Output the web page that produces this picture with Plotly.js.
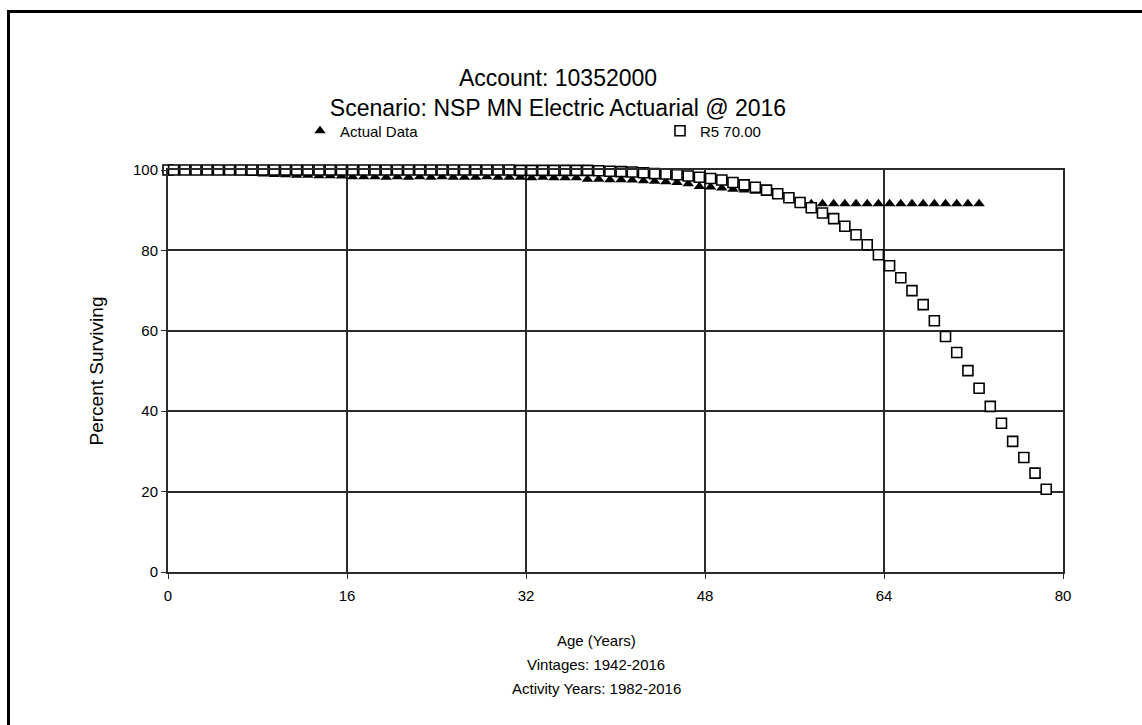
<!DOCTYPE html>
<html>
<head>
<meta charset="utf-8">
<script src="https://cdn.plot.ly/plotly-3.0.1.min.js"></script>
<style>
  html, body { margin: 0; padding: 0; background: #fff; overflow: hidden; }
  #frame { position: absolute; left: 7px; top: 10px; width: 1200px; height: 800px;
           border-left: 3px solid #000; border-top: 3px solid #000; box-sizing: border-box; pointer-events: none; z-index: 5; }
  #chart { position: absolute; left: 0; top: 0; width: 1142px; height: 725px; }
</style>
</head>
<body>
<div id="chart"></div>
<div id="frame"></div>
<script>
// ---- data ----
const chartTitle = "Account: 10352000";
const chartSubtitle = "Scenario: NSP MN Electric Actuarial @ 2016";
const xTitleLines = ["Age (Years)", "Vintages: 1942-2016", "Activity Years: 1982-2016"];
const yTitle = "Percent Surviving";
const seriesNames = ["Actual Data", "R5 70.00"];
const xTicks = [0, 16, 32, 48, 64, 80];
const yTicks = [0, 20, 40, 60, 80, 100];

const ageActual = [0, 0.5, 1.5, 2.5, 3.5, 4.5, 5.5, 6.5, 7.5, 8.5, 9.5, 10.5, 11.5, 12.5, 13.5, 14.5,
  15.5, 16.5, 17.5, 18.5, 19.5, 20.5, 21.5, 22.5, 23.5, 24.5, 25.5, 26.5, 27.5, 28.5, 29.5, 30.5,
  31.5, 32.5, 33.5, 34.5, 35.5, 36.5, 37.5, 38.5, 39.5, 40.5, 41.5, 42.5, 43.5, 44.5, 45.5, 46.5,
  47.5, 48.5, 49.5, 50.5, 51.5, 52.5, 53.5, 54.5, 55.5, 56.5, 57.5, 58.5, 59.5, 60.5, 61.5, 62.5,
  63.5, 64.5, 65.5, 66.5, 67.5, 68.5, 69.5, 70.5, 71.5, 72.5];
const pctActual = [100, 99.9, 99.9, 99.8, 99.8, 99.5, 99.4, 99.3, 99.1, 99.0, 98.9, 98.8, 98.7, 98.7, 98.6, 98.6,
  98.5, 98.3, 98.3, 98.3, 98.2, 98.3, 98.2, 98.3, 98.2, 98.3, 98.2, 98.2, 98.2, 98.3, 98.2, 98.2,
  98.2, 98.1, 98.2, 98.1, 98.1, 98.1, 97.7, 97.7, 97.6, 97.6, 97.5, 97.3, 97.2, 97.1, 96.9, 96.6,
  95.9, 95.8, 95.5, 95.2, 95.0, 94.7, 94.4, 93.8, 93.0, 92.2, 91.6, 91.6, 91.6, 91.6, 91.6, 91.6,
  91.6, 91.6, 91.6, 91.6, 91.6, 91.6, 91.6, 91.6, 91.6, 91.6];

const ageR5 = [0, 0.5, 1.5, 2.5, 3.5, 4.5, 5.5, 6.5, 7.5, 8.5, 9.5, 10.5, 11.5, 12.5, 13.5, 14.5,
  15.5, 16.5, 17.5, 18.5, 19.5, 20.5, 21.5, 22.5, 23.5, 24.5, 25.5, 26.5, 27.5, 28.5, 29.5, 30.5,
  31.5, 32.5, 33.5, 34.5, 35.5, 36.5, 37.5, 38.5, 39.5, 40.5, 41.5, 42.5, 43.5, 44.5, 45.5, 46.5,
  47.5, 48.5, 49.5, 50.5, 51.5, 52.5, 53.5, 54.5, 55.5, 56.5, 57.5, 58.5, 59.5, 60.5, 61.5, 62.5,
  63.5, 64.5, 65.5, 66.5, 67.5, 68.5, 69.5, 70.5, 71.5, 72.5, 73.5, 74.5, 75.5, 76.5, 77.5, 78.5];
const pctR5 = [100, 100, 100, 100, 100, 100, 100, 100, 100, 100, 100, 100, 100, 100, 100, 100,
  100, 100, 100, 100, 100, 100, 100, 100, 100, 100, 100, 100, 100, 100, 100, 100,
  99.9, 99.9, 99.9, 99.9, 99.9, 99.9, 99.9, 99.8, 99.7, 99.6, 99.5, 99.3, 99.1, 99.0, 98.8, 98.5,
  98.2, 97.9, 97.5, 96.9, 96.3, 95.7, 95.0, 94.1, 93.1, 91.9, 90.6, 89.3, 87.9, 86.0, 83.9, 81.4,
  78.9, 76.2, 73.2, 70.0, 66.5, 62.5, 58.6, 54.6, 50.1, 45.7, 41.2, 37.0, 32.5, 28.5, 24.6, 20.6];

// ---- chart ----
const font = "Liberation Sans, Arial, sans-serif";
const gridCol = "#2b2b2b";

const traces = [
  {
    x: ageActual, y: pctActual, name: seriesNames[0], type: "scatter", mode: "markers",
    cliponaxis: false,
    marker: { symbol: "triangle-up", size: 10, color: "#000", line: { width: 0 } }
  },
  {
    x: ageR5, y: pctR5, name: seriesNames[1], type: "scatter", mode: "markers",
    cliponaxis: false,
    marker: { symbol: "square", size: 10, color: "#fff", line: { width: 1.6, color: "#000" } }
  }
];

const annotations = xTitleLines.map((t, i) => ({
  text: t, xref: "paper", yref: "paper", x: (596 - 168) / 895, y: (572 - (640 + 24 * i)) / 402,
  xanchor: "center", yanchor: "middle", showarrow: false,
  font: { family: font, size: 15, color: "#000" }
}));

const layout = {
  width: 1142, height: 725,
  margin: { l: 168, r: 79, t: 170, b: 153 },
  paper_bgcolor: "#fff", plot_bgcolor: "#fff",
  font: { family: font, color: "#000" },
  title: {
    text: chartTitle + "<br>" + chartSubtitle,
    xref: "container", yref: "container",
    x: 558 / 1142, xanchor: "center",
    y: 1 - 86 / 725, yanchor: "top",
    font: { family: font, size: 23, color: "#000" }
  },
  showlegend: true,
  legend: {
    orientation: "h", x: (300 - 168) / 895, xanchor: "left",
    y: (572 - 131) / 402, yanchor: "middle",
    entrywidth: 315, entrywidthmode: "pixels",
    bgcolor: "rgba(0,0,0,0)", font: { family: font, size: 15, color: "#000" },
    itemclick: false
  },
  xaxis: {
    range: [0, 80], tickvals: xTicks, ticktext: xTicks.map(String),
    showgrid: true, gridcolor: gridCol, gridwidth: 2,
    showline: true, linecolor: gridCol, linewidth: 2, mirror: true,
    ticks: "outside", ticklen: 5, tickcolor: gridCol, tickwidth: 1,
    tickfont: { family: font, size: 15, color: "#000" },
    ticklabelstandoff: 4,
    zeroline: false, fixedrange: true
  },
  yaxis: {
    range: [0, 100], tickvals: yTicks, ticktext: yTicks.map(String),
    showgrid: true, gridcolor: gridCol, gridwidth: 2,
    showline: true, linecolor: gridCol, linewidth: 2, mirror: true,
    ticks: "outside", ticklen: 5, tickcolor: gridCol, tickwidth: 1,
    tickfont: { family: font, size: 15, color: "#000" },
    zeroline: false, fixedrange: true,
    title: { text: yTitle, font: { family: font, size: 19, color: "#000" }, standoff: 24 }
  },
  annotations: annotations
};

Plotly.newPlot("chart", traces, layout, { displayModeBar: false, staticPlot: true });
</script>
</body>
</html>
